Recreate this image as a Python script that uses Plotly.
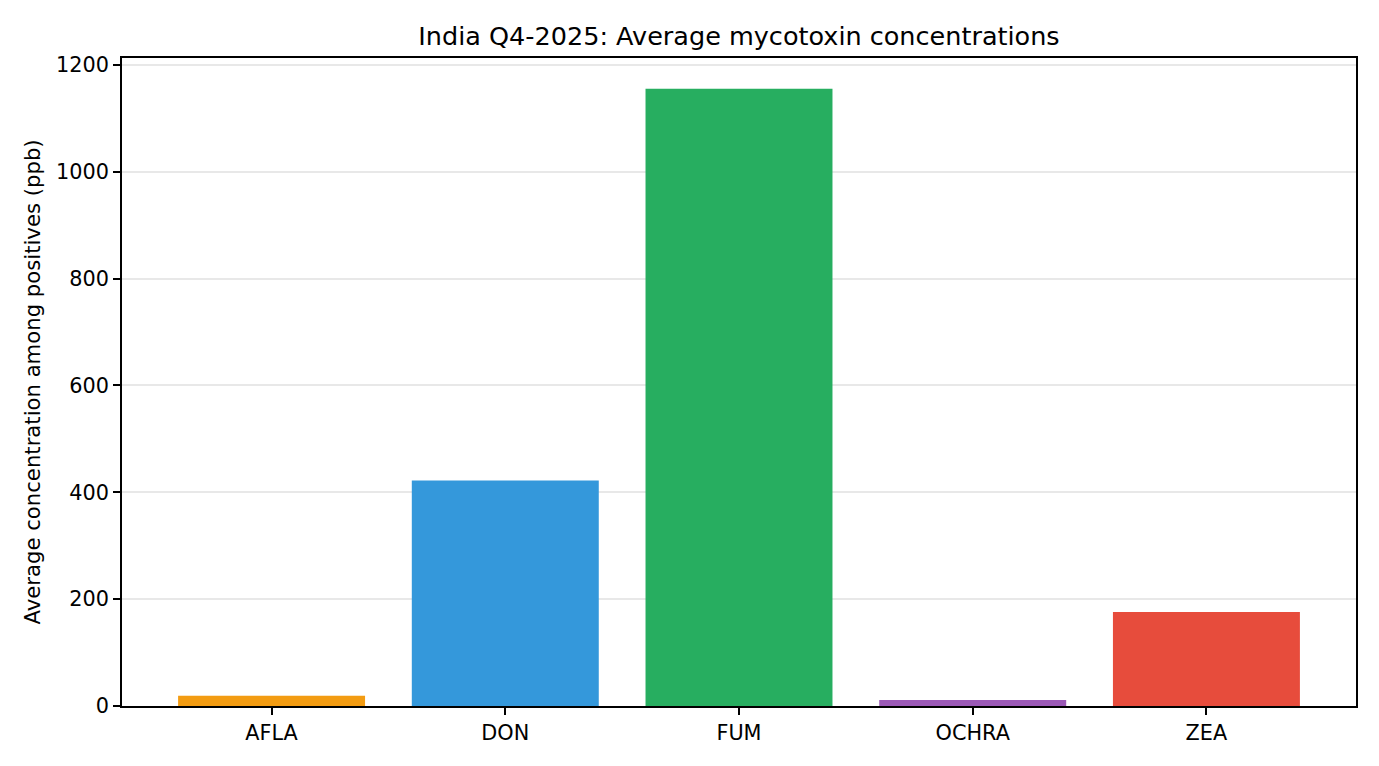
import plotly.graph_objects as go

categories = ["AFLA", "DON", "FUM", "OCHRA", "ZEA"]
values = [19, 422, 1155, 11, 176]
colors = ["#f39c12", "#3498db", "#27ae60", "#9b59b6", "#e74c3c"]
y_ticks = [0, 200, 400, 600, 800, 1000, 1200]

fig = go.Figure(go.Bar(
    x=list(range(len(categories))), y=values,
    marker=dict(color=colors, line=dict(width=0)),
    width=0.8,
))

font = "DejaVu Sans"
W, H = 1371, 758
fig.update_layout(
    width=W, height=H,
    margin=dict(l=114, r=23, t=50, b=60, autoexpand=False),
    plot_bgcolor="white", paper_bgcolor="white",
    showlegend=False,
    font=dict(family=font, size=20.8, color="black"),
    title=dict(text="India Q4-2025: Average mycotoxin concentrations",
               x=(114 + (W - 23)) / 2 / W, xanchor="center",
               y=1 - 28 / H, yanchor="middle",
               font=dict(size=25.5, family=font, color="black")),
)
fig.update_xaxes(
    tickmode="array", tickvals=list(range(len(categories))), ticktext=categories,
    range=[-0.64, 4.64],
    showline=True, linecolor="black", linewidth=1.6, mirror=True,
    ticks="outside", ticklen=7, tickcolor="black", tickwidth=1.6,
    showgrid=False, zeroline=False,
    tickfont=dict(size=20.8, family=font),
)
fig.update_yaxes(
    range=[0, 1212.75],
    tickmode="array", tickvals=y_ticks,
    showline=True, linecolor="black", linewidth=1.6, mirror=True,
    ticks="outside", ticklen=7, tickcolor="black", tickwidth=1.6,
    showgrid=True, gridcolor="#e8e8e8", gridwidth=1.5, zeroline=False,
    title=dict(text="Average concentration among positives (ppb)",
               font=dict(size=21.2, family=font), standoff=10),
    tickfont=dict(size=20.8, family=font),
)

fig.write_html("out.html")
